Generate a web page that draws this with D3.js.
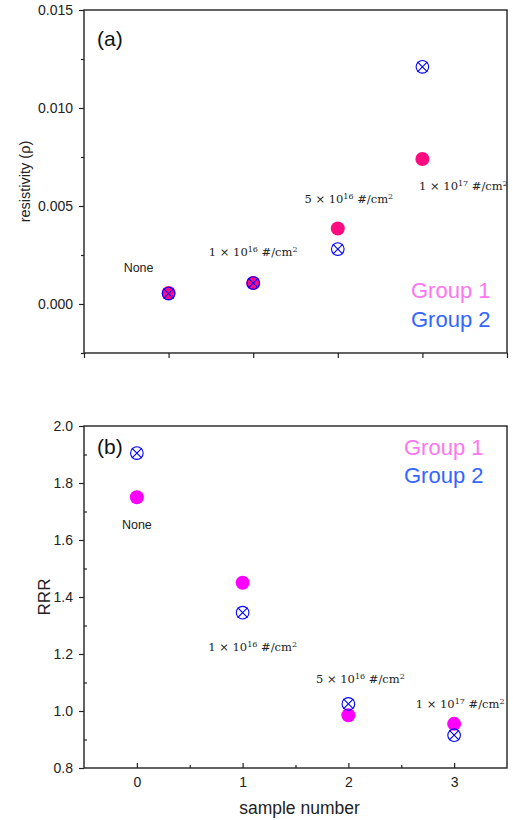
<!DOCTYPE html>
<html>
<head>
<meta charset="utf-8">
<script src="https://cdn.jsdelivr.net/npm/d3@7"></script>
<style>
  body { margin: 0; background: #fff; }
  text { font-family: "Liberation Sans", Arial, sans-serif; }
</style>
</head>
<body>
<div id="plot"></div>
<script>
// sample numbers and implantation doses
var samples = [0, 1, 2, 3];
var doseMant = [null, 1, 5, 1];
var doseExp = [null, 16, 16, 17];

// panel (a) resistivity
var rhoGroup1 = [0.00056, 0.00107, 0.00385, 0.0074];
var rhoGroup2 = [0.00053, 0.00107, 0.0028, 0.0121];

// panel (b) RRR
var rrrGroup1 = [1.75, 1.45, 0.985, 0.955];
var rrrGroup2 = [1.905, 1.345, 1.025, 0.915];

var rhoTicks = [0, 0.005, 0.010, 0.015];
var rhoMinor = [-0.0025, 0.0025, 0.0075, 0.0125];
var rrrTicks = [0.8, 1.0, 1.2, 1.4, 1.6, 1.8, 2.0];
var rrrMinor = [0.9, 1.1, 1.3, 1.5, 1.7, 1.9];

var w = 513, h = 820;
var left = 84, right = 507;

var svg = d3.select("#plot").append("svg")
  .attr("width", w)
  .attr("height", h);

// scales
var xa = d3.scaleLinear().domain([-1, 4]).range([left, right]);
var ya = d3.scaleLinear().domain([-0.0025, 0.015]).range([353, 10]);
var xb = d3.scaleLinear().domain([-0.5, 3.5]).range([left, right]);
var yb = d3.scaleLinear().domain([0.8, 2.0]).range([768, 426]);

var pink = "#ff0a80", magenta = "#ff00ff", blue = "#0000ff";

function styleAxis(g) {
  g.select(".domain").remove();
  g.selectAll("line").attr("stroke", "#222").attr("stroke-width", 1.2);
  g.selectAll("text").attr("fill", "#222").style("font-size", "14px");
}

function frame(x, y) {
  svg.append("rect")
    .attr("x", x.range()[0])
    .attr("y", y.range()[1])
    .attr("width", x.range()[1] - x.range()[0])
    .attr("height", y.range()[0] - y.range()[1])
    .attr("fill", "none")
    .attr("stroke", "#222")
    .attr("stroke-width", 1.4);
}

// crossed circle marker
function crossed(sel, x, y, vals) {
  var g = sel.selectAll(null).data(samples).enter().append("g")
    .attr("transform", function(d, i) { return "translate(" + x(d) + "," + y(vals[i]) + ")"; });
  g.append("circle").attr("r", 6.3).attr("fill", "none").attr("stroke", blue).attr("stroke-width", 1.1);
  g.append("path").attr("d", "M-5,-5L5,5M-5,5L5,-5").attr("stroke", blue).attr("stroke-width", 1.1);
}

function doseLabel(d, i, x, y, dx, dy) {
  var t = svg.append("text")
    .attr("x", x + dx)
    .attr("y", y + dy)
    .attr("text-anchor", "middle")
    .attr("fill", "#222");
  if (doseMant[i] == null) {
    t.style("font-size", "12.5px").text("None");
    return;
  }
  t.style("font-family", "'DejaVu Serif', 'Liberation Serif', serif").style("font-size", "11.5px");
  t.append("tspan").text(doseMant[i] + " \u00d7 10");
  t.append("tspan").attr("dy", -4).style("font-size", "8px").text(doseExp[i]);
  t.append("tspan").attr("dy", 4).text(" #/cm");
  t.append("tspan").attr("dy", -4).style("font-size", "8px").text("2");
}

// ---------- panel (a) ----------
svg.append("g")
  .attr("transform", "translate(" + left + ",0)")
  .call(d3.axisLeft(ya).tickValues(rhoTicks).tickSize(5).tickPadding(6).tickFormat(d3.format(".3f")))
  .call(styleAxis);
svg.append("g")
  .attr("transform", "translate(" + left + ",0)")
  .call(d3.axisLeft(ya).tickValues(rhoMinor).tickSize(3).tickFormat(""))
  .call(styleAxis);
svg.append("g")
  .attr("transform", "translate(0," + ya.range()[0] + ")")
  .call(d3.axisBottom(xa).tickValues([-1, 0, 1, 2, 3, 4]).tickSize(5).tickFormat(""))
  .call(styleAxis);
frame(xa, ya);

svg.append("g").selectAll("circle")
  .data(samples).enter().append("circle")
  .attr("cx", function(d) { return xa(d); })
  .attr("cy", function(d, i) { return ya(rhoGroup1[i]); })
  .attr("r", 7)
  .attr("fill", pink);
crossed(svg.append("g"), xa, ya, rhoGroup2);

var offA = [[-30, -21], [0, -27], [11, -26], [41, 31]];
samples.forEach(function(d, i) {
  doseLabel(d, i, xa(d), ya(i == 3 ? rhoGroup1[i] : Math.max(rhoGroup1[i], rhoGroup2[i])), offA[i][0], offA[i][1]);
});

svg.append("text").attr("x", 97).attr("y", 46).style("font-size", "21px").attr("fill", "#111").text("(a)");
svg.append("text").attr("x", 411).attr("y", 298).style("font-size", "22px").attr("fill", "#ff77ee").text("Group 1");
svg.append("text").attr("x", 411).attr("y", 327).style("font-size", "22px").attr("fill", "#3366ff").text("Group 2");
svg.append("text")
  .attr("transform", "translate(30," + ((ya.range()[0] + ya.range()[1]) / 2) + ") rotate(-90)")
  .attr("text-anchor", "middle")
  .style("font-size", "14.5px")
  .attr("fill", "#222")
  .text("resistivity (\u03c1)");

// ---------- panel (b) ----------
svg.append("g")
  .attr("transform", "translate(" + left + ",0)")
  .call(d3.axisLeft(yb).tickValues(rrrTicks).tickSize(5).tickPadding(6).tickFormat(d3.format(".1f")))
  .call(styleAxis);
svg.append("g")
  .attr("transform", "translate(" + left + ",0)")
  .call(d3.axisRight(yb).tickValues(rrrMinor).tickSize(3).tickFormat(""))
  .call(styleAxis);
svg.append("g")
  .attr("transform", "translate(0," + yb.range()[0] + ")")
  .call(d3.axisTop(xb).tickValues(samples).tickSize(5).tickFormat(""))
  .call(styleAxis);
svg.append("g")
  .attr("transform", "translate(0," + yb.range()[0] + ")")
  .call(d3.axisTop(xb).tickValues([0.5, 1.5, 2.5]).tickSize(3).tickFormat(""))
  .call(styleAxis);
svg.append("g")
  .attr("transform", "translate(0," + yb.range()[0] + ")")
  .call(d3.axisBottom(xb).tickValues(samples).tickSize(0).tickPadding(9).tickFormat(d3.format("d")))
  .call(styleAxis);
frame(xb, yb);

svg.append("g").selectAll("circle")
  .data(samples).enter().append("circle")
  .attr("cx", function(d) { return xb(d); })
  .attr("cy", function(d, i) { return yb(rrrGroup1[i]); })
  .attr("r", 7)
  .attr("fill", magenta);
crossed(svg.append("g"), xb, yb, rrrGroup2);

var offB = [[0, 32], [10, 38], [12, -21], [6, -16]];
var anchorB = [rrrGroup1[0], rrrGroup2[1], rrrGroup2[2], rrrGroup1[3]];
samples.forEach(function(d, i) {
  doseLabel(d, i, xb(d), yb(anchorB[i]), offB[i][0], offB[i][1]);
});

svg.append("text").attr("x", 97).attr("y", 454).style("font-size", "21px").attr("fill", "#111").text("(b)");
svg.append("text").attr("x", 404).attr("y", 455).style("font-size", "22px").attr("fill", "#ff77ee").text("Group 1");
svg.append("text").attr("x", 404).attr("y", 483).style("font-size", "22px").attr("fill", "#3366ff").text("Group 2");
svg.append("text")
  .attr("transform", "translate(50," + ((yb.range()[0] + yb.range()[1]) / 2) + ") rotate(-90)")
  .attr("text-anchor", "middle")
  .style("font-size", "17px")
  .attr("fill", "#222")
  .text("RRR");
svg.append("text")
  .attr("x", (left + right) / 2 + 4)
  .attr("y", 814)
  .attr("text-anchor", "middle")
  .style("font-size", "17.5px")
  .attr("fill", "#222")
  .text("sample number");
</script>
</body>
</html>
